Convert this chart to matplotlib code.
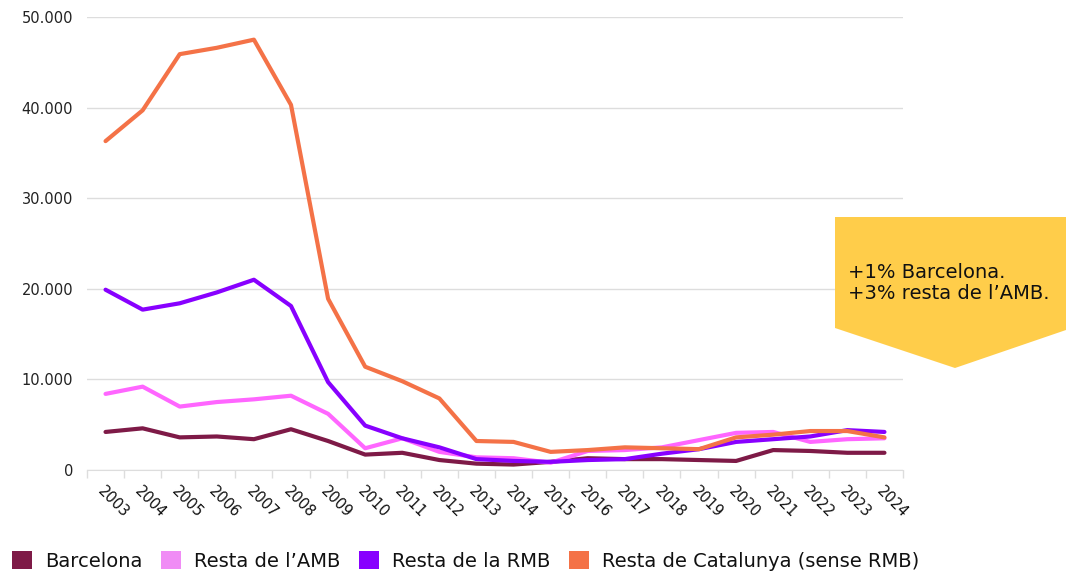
import numpy as np
import matplotlib
matplotlib.use('Agg')
import matplotlib.pyplot as plt
from matplotlib.patches import Polygon, Patch

plt.rcParams['font.family'] = ['DejaVu Sans']

# Data
years = list(range(2003, 2025))
barcelona = [4200, 4600, 3600, 3700, 3400, 4500, 3200, 1700, 1900, 1100, 700, 600,
             900, 1300, 1200, 1200, 1100, 1000, 2200, 2100, 1900, 1900]
resta_amb = [8400, 9200, 7000, 7500, 7800, 8200, 6200, 2400, 3500, 2000, 1400, 1300,
             800, 2100, 2200, 2500, 3300, 4100, 4200, 3100, 3400, 3500]
resta_rmb = [19900, 17700, 18400, 19600, 21000, 18100, 9700, 4900, 3500, 2500, 1200, 1000,
             900, 1100, 1200, 1800, 2300, 3100, 3400, 3700, 4400, 4200]
resta_cat = [36300, 39700, 45900, 46600, 47500, 40300, 18900, 11400, 9800, 7900, 3200, 3100,
             2000, 2200, 2500, 2400, 2300, 3600, 3900, 4300, 4300, 3600]

series = [
    ('Barcelona', barcelona, '#7e1a47', '#7e1a47'),
    ("Resta de l\u2019AMB", resta_amb, '#ff66ff', '#f08cf5'),
    ('Resta de la RMB', resta_rmb, '#8800ff', '#8800ff'),
    ('Resta de Catalunya (sense RMB)', resta_cat, '#f47247', '#f47247'),
]

W, H = 1066, 571
fig = plt.figure(figsize=(W / 100, H / 100), dpi=100)
ax = fig.add_axes([87 / W, 1 - 470 / H, (903 - 87) / W, (470 - 17) / H])

x = np.arange(len(years))
for name, vals, col, _ in series:
    ax.plot(x, vals, color=col, lw=3, solid_capstyle='round', solid_joinstyle='round')

ax.set_ylim(0, 50000)
ax.set_xlim(-0.5, len(years) - 0.5)
ax.set_yticks(np.arange(0, 50001, 10000))
ax.set_yticklabels(['0' if v == 0 else f'{v:,}'.replace(',', '.') for v in range(0, 50001, 10000)],
                   fontsize=10.5, color='#222222')
ax.grid(axis='y', color='#dddddd', lw=1)
ax.set_axisbelow(True)
ax.tick_params(axis='y', length=0, pad=10)

ax.set_xticks(x)
ax.set_xticklabels([str(y) for y in years], rotation=-45, ha='left',
                   rotation_mode='anchor', fontsize=10.5, color='#111111')
ax.tick_params(axis='x', which='major', length=0, pad=10)
ax.set_xticks(np.arange(-0.5, len(years)), minor=True)
ax.tick_params(axis='x', which='minor', length=6, color='#dddddd', width=1)

for s in ['top', 'right', 'left']:
    ax.spines[s].set_visible(False)
ax.spines['bottom'].set_color('#dddddd')

# Legend
handles = [Patch(facecolor=lc, edgecolor='none') for _, _, _, lc in series]
fig.legend(handles, [s[0] for s in series], loc='lower left', bbox_to_anchor=(12 / W, 0.0),
           ncol=4, frameon=False, fontsize=14, handlelength=1.05, handleheight=1.05,
           handletextpad=0.65, columnspacing=0.95, borderaxespad=0, borderpad=0,
           labelcolor='#111111')

# Annotation box
pts = [(835, 217), (1066, 217), (1066, 330), (955, 368), (835, 328)]
poly = Polygon([(px / W, 1 - py / H) for px, py in pts], closed=True,
               facecolor='#ffcd4a', edgecolor='none', transform=fig.transFigure)
fig.add_artist(poly)
fig.text(848 / W, 1 - 283 / H, "+1% Barcelona.\n+3% resta de l\u2019AMB.",
         fontsize=14, va='center', ha='left', linespacing=1.15, color='#111111')

fig.savefig('out.png', dpi=100)
